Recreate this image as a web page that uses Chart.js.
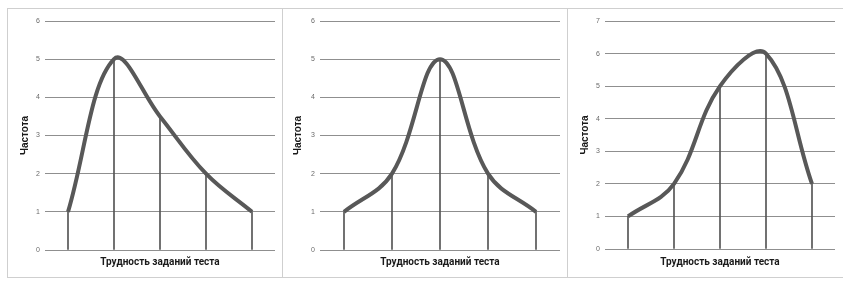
<!DOCTYPE html>
<html><head><meta charset="utf-8">
<script src="https://cdn.jsdelivr.net/npm/chart.js@4/dist/chart.umd.min.js"></script>
<style>
html,body{margin:0;padding:0;background:#fff;width:843px;height:281px;overflow:hidden;}
.panel{position:absolute;top:8px;height:268px;border:1px solid #cfcfcf;box-sizing:content-box;background:#fff;}
.panel canvas{display:block;}
</style></head><body>
<div class="panel" id="p1" style="left:7px;width:274px;"><canvas id="c1" width="274" height="268"></canvas></div>
<div class="panel" id="p2" style="left:282px;width:284px;"><canvas id="c2" width="284" height="268"></canvas></div>
<div class="panel" id="p3" style="left:567px;width:280px;"><canvas id="c3" width="280" height="268"></canvas></div>
<script>
const categories = ['1','2','3','4','5'];
const series1 = [1, 5, 3.5, 2, 1];
const series2 = [1, 2, 5, 2, 1];
const series3 = [1, 2, 5, 6, 2];
const yMax1 = 6, yMax2 = 6, yMax3 = 7;
const xTitle = 'Трудность заданий теста';
const yTitle = 'Частота';

function makeChart(id, data, yMax, yWidth, titlePad, rightPad, bottomY) {
  new Chart(document.getElementById(id), {
    type: 'bar',
    data: {
      labels: categories,
      datasets: [
        { type: 'line', data: data, borderColor: '#585858', borderWidth: 4, tension: 0.38,
          pointRadius: 0, fill: false, order: 0 },
        { type: 'bar', data: data, backgroundColor: '#555', barThickness: 1, order: 1 }
      ]
    },
    options: {
      responsive: false, animation: false,
      plugins: { legend: { display: false }, tooltip: { enabled: false } },
      layout: { padding: { left: 0, right: rightPad, top: 12, bottom: 5 } },
      scales: {
        x: {
          offset: true,
          grid: { display: false },
          border: { display: false },
          ticks: { display: false },
          title: { display: true, text: xTitle, color: '#1a1a1a',
            font: { family: 'Roboto, sans-serif', size: 10, weight: 'bold' },
            padding: { top: 0, bottom: 4 } },
          afterFit: s => { s.height = bottomY; }
        },
        y: {
          min: 0, max: yMax,
          ticks: { stepSize: 1, color: '#6a6a6a', padding: 5,
            font: { family: 'Liberation Sans, sans-serif', size: 7 } },
          grid: { color: '#8f8f8f', lineWidth: 1, drawTicks: false },
          border: { display: false },
          title: { display: true, text: yTitle, color: '#1a1a1a',
            font: { family: 'Liberation Sans, sans-serif', size: 10, weight: 'bold' },
            padding: { top: titlePad, bottom: 0 } },
          afterFit: s => { s.width = yWidth; }
        }
      }
    }
  });
}
makeChart('c1', series1, yMax1, 37, 11, 7, 22);
makeChart('c2', series2, yMax2, 37, 9, 7, 22);
makeChart('c3', series3, yMax3, 37, 11, 13, 23);
</script></body></html>
